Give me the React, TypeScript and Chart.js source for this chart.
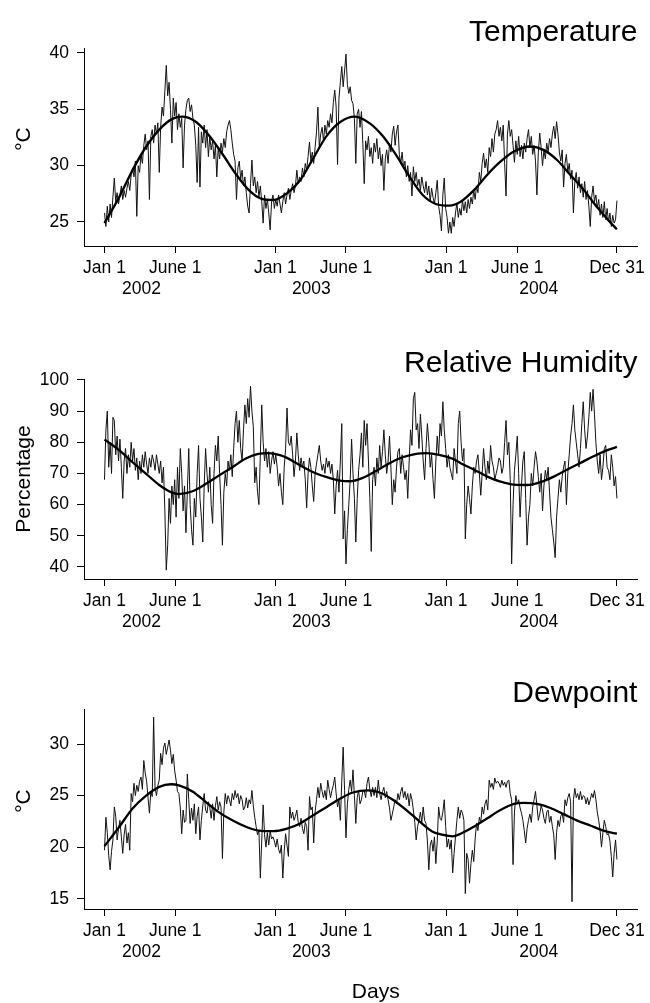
import { useEffect, useRef } from "react";
import { Chart, registerables } from "chart.js";

Chart.register(...registerables);

// Readings are plotted every SAMPLE_STEP days, starting Jan 1 2002 (day 0).
const SAMPLE_STEP = 3;

const temperature = [
  25.8, 24.6, 26.4, 25.0, 26.6, 25.4, 27.2, 28.9, 26.8, 27.6,
  26.6, 27.4, 28.2, 27.0, 27.8, 27.2, 28.0, 28.6, 27.8, 29.2,
  29.8, 29.0, 30.4, 25.5, 30.0, 29.4, 31.0, 30.2, 31.8, 32.8,
  31.4, 32.2, 27.0, 32.6, 33.2, 32.0, 33.6, 32.8, 33.8, 29.4,
  33.4, 35.2, 34.4, 36.6, 38.9, 36.2, 37.4, 35.0, 32.0, 36.0,
  34.4, 35.6, 33.2, 34.6, 33.4, 34.2, 29.8, 33.6, 35.0, 35.8,
  36.0, 34.8, 35.4, 34.2, 33.6, 31.8, 28.5, 33.4, 28.1, 33.0,
  32.0, 33.6, 31.6, 33.2, 30.8, 32.6, 31.4, 32.2, 30.6, 31.8,
  29.0, 31.6, 30.6, 32.0, 31.2, 32.4, 31.6, 33.0, 33.6, 34.0,
  33.2, 32.0, 31.0, 30.4, 27.0, 29.8, 30.4, 28.8, 29.6, 28.2,
  29.0, 27.6, 26.4, 25.8, 28.4, 30.5, 28.2, 29.0, 27.6, 28.6,
  27.2, 28.2, 26.8, 24.9, 27.4, 26.2, 27.0, 25.8, 24.3, 26.8,
  27.4, 26.2, 27.0, 26.4, 27.4, 26.6, 25.8, 26.8, 27.6, 26.6,
  27.4, 28.0, 27.0, 27.8, 28.4, 27.6, 28.2, 29.6, 28.4, 29.0,
  28.6, 29.8, 29.0, 30.2, 29.6, 30.8, 32.1, 30.4, 31.2, 30.2,
  31.6, 33.0, 35.2, 31.6, 32.8, 33.4, 32.2, 33.6, 32.8, 34.0,
  33.4, 34.6, 33.8, 35.6, 36.7, 35.2, 30.1, 36.0, 37.4, 38.8,
  37.0, 38.4, 39.9, 37.2, 36.4, 37.0, 35.8, 35.5, 34.2, 30.2,
  34.6, 35.0, 33.4, 34.8, 32.0, 28.4, 32.2, 31.4, 32.6, 30.8,
  31.6, 30.2, 32.0, 31.2, 32.4, 30.6, 31.6, 30.0, 31.0, 27.8,
  30.6, 31.4, 30.2, 32.0, 31.2, 32.8, 33.5, 31.8, 33.0, 33.6,
  31.0, 30.2, 31.2, 29.8, 30.4, 29.0, 30.0, 28.6, 29.4, 27.3,
  29.9, 28.6, 29.4, 28.2, 28.8, 27.8, 29.0, 28.2, 27.6, 28.6,
  27.4, 28.2, 26.8, 28.0, 27.2, 26.6, 27.6, 28.7, 26.4, 25.6,
  24.2, 27.4, 28.9, 26.2, 25.4, 24.0, 25.0, 24.0, 25.4, 24.6,
  25.8, 26.7, 25.4, 26.2, 25.6, 26.9, 26.0, 26.8, 25.8, 27.0,
  26.2, 27.2, 26.6, 27.8, 27.0, 28.2, 27.6, 29.4, 28.6, 30.2,
  31.1, 29.8, 30.6, 29.4, 31.6, 30.8, 32.4, 31.2, 32.8, 33.2,
  34.0, 32.6, 33.4, 32.2, 33.6, 30.2, 27.3, 32.8, 34.0, 32.6,
  33.2, 31.8, 30.3, 32.2, 31.0, 32.6, 30.8, 31.8, 30.6, 32.0,
  31.2, 32.4, 33.2, 31.6, 32.6, 31.0, 31.8, 30.4, 27.4, 31.2,
  32.9, 31.6, 30.0, 31.4, 30.6, 32.0, 31.2, 32.4, 31.6, 32.8,
  33.5, 32.4, 33.9, 32.8, 31.2, 30.4, 31.4, 28.1, 30.2, 31.0,
  29.4, 30.2, 28.8, 29.6, 25.8, 28.6, 29.4, 28.0, 29.0, 27.6,
  28.4, 27.2, 28.6, 27.0, 27.8, 26.4, 24.6, 27.2, 28.2, 26.8,
  27.4, 26.2, 27.0, 25.6, 26.6, 25.4, 26.8, 25.2, 26.2, 25.0,
  25.8, 24.6, 25.6, 24.9, 25.2, 26.9,
];

const humidity = [
  68, 84, 90, 72, 80, 70, 88, 87, 76, 82,
  74, 81, 72, 62, 74, 78, 70, 76, 72, 80,
  74, 78, 71, 75, 68, 74, 70, 76, 72, 77,
  73, 70, 75, 72, 76, 74, 71, 76, 73, 70,
  74, 67, 72, 58, 39, 47, 62, 54, 66, 60,
  68, 56, 72, 62, 78, 70, 58, 66, 51, 64,
  78, 60, 52, 47, 62, 56, 70, 79, 62, 56,
  48, 66, 78, 70, 64, 72, 60, 54, 70, 79,
  74, 82, 70, 60, 47, 64, 70, 66, 74, 71,
  76, 69, 78, 86, 90, 80, 87, 78, 74, 84,
  92, 86, 94, 88, 98, 90, 85, 67, 72, 64,
  60, 76, 92, 80, 74, 78, 72, 77, 70, 74,
  77, 73, 76, 72, 66, 70, 64, 60, 72, 78,
  91, 80, 79, 82, 76, 69, 74, 83, 76, 71,
  75, 72, 74, 68, 59, 70, 75, 72, 66, 61,
  70, 73, 76, 79, 74, 71, 73, 70, 75, 72,
  74, 70, 73, 68, 57, 66, 71, 64, 74, 86,
  49, 58, 41, 52, 60, 68, 81, 70, 62, 48,
  62, 71, 76, 83, 72, 87, 79, 86, 74, 62,
  45, 68, 72, 66, 75, 70, 79, 72, 77, 84,
  76, 70, 74, 82, 72, 60, 68, 64, 72, 77,
  78, 70, 76, 72, 68, 71, 62, 74, 84, 79,
  94, 96, 84, 86, 78, 89, 82, 74, 68, 78,
  86, 80, 72, 76, 68, 62, 74, 82, 76, 86,
  82, 93, 84, 78, 72, 76, 72, 70, 68, 78,
  74, 70, 86, 90, 80, 74, 78, 49, 60, 66,
  62, 57, 66, 72, 70, 74, 76, 70, 63, 70,
  78, 72, 68, 74, 70, 79, 74, 72, 68, 70,
  72, 75, 74, 70, 72, 80, 87, 76, 80, 68,
  41, 60, 71, 76, 82, 70, 56, 66, 74, 77,
  62, 47, 56, 60, 70, 66, 72, 77, 74, 69,
  64, 70, 58, 66, 71, 68, 72, 64, 56, 52,
  48, 43, 56, 62, 68, 64, 69, 72, 74, 60,
  70, 76, 82, 86, 92, 84, 80, 76, 72, 78,
  86, 93, 84, 78, 82, 88, 96, 90, 97, 89,
  80, 74, 70, 76, 68, 72, 78, 79, 72, 71,
  68, 76, 72, 66, 69, 62,
];

const dewpoint = [
  19.7, 22.9, 21.4, 19.2, 17.8, 19.6, 20.7, 23.9, 23.0, 20.7,
  21.8, 22.6, 21.0, 19.4, 21.2, 22.2, 20.4, 21.4, 19.7, 25.2,
  24.4, 26.2, 25.0, 26.0, 25.4, 26.4, 26.8, 25.6, 28.4, 27.2,
  26.4, 24.8, 23.3, 25.4, 24.9, 32.6, 25.8, 25.0, 26.0, 26.5,
  29.1, 28.0, 29.6, 30.1, 29.0, 29.7, 30.4, 29.4, 28.1, 29.0,
  27.4, 26.5, 25.4, 25.2, 23.8, 21.3, 23.6, 22.4, 22.6, 27.1,
  24.6, 22.3, 23.8, 22.6, 24.2, 21.3, 23.0, 23.9, 20.7, 22.6,
  24.0, 25.2, 23.6, 23.3, 24.4, 23.9, 22.8, 24.2, 22.6, 24.0,
  24.9, 23.6, 24.4, 23.9, 18.9, 23.4, 25.2, 24.2, 25.0, 24.6,
  24.0, 25.2, 24.6, 25.5, 24.8, 25.2, 24.2, 25.0, 24.6, 23.6,
  23.9, 24.8, 23.8, 24.6, 24.2, 25.5, 24.0, 22.9, 22.0, 21.2,
  21.6, 17.0, 20.7, 24.1, 21.2, 20.0, 21.4, 20.2, 21.6, 20.8,
  21.0, 20.6, 20.0, 20.8, 19.8, 19.4, 20.2, 17.0, 19.6, 21.3,
  20.2, 19.1, 23.9, 22.8, 23.4, 22.6, 23.0, 23.6, 22.4, 22.0,
  22.8, 21.8, 21.3, 22.4, 22.0, 19.7, 24.9, 23.6, 23.9, 20.4,
  23.4, 24.6, 25.8, 24.8, 26.2, 25.4, 24.8, 25.5, 24.6, 26.5,
  25.6, 24.8, 25.5, 26.0, 26.8, 25.2, 23.9, 24.6, 22.6, 26.4,
  29.7, 25.5, 20.9, 24.2, 25.6, 26.5, 25.4, 27.5, 25.0, 22.3,
  24.8, 25.5, 24.2, 24.6, 25.4, 25.5, 24.8, 26.2, 26.8, 25.6,
  24.9, 25.8, 25.0, 25.8, 24.8, 26.5, 25.2, 24.6, 25.4, 25.8,
  24.8, 25.4, 24.6, 23.8, 22.6, 23.2, 23.9, 24.6, 24.2, 25.2,
  24.6, 25.4, 25.8, 24.8, 25.4, 24.6, 25.2, 24.0, 25.2, 24.6,
  23.6, 22.4, 20.7, 22.0, 22.6, 23.4, 22.4, 23.9, 22.6, 22.3,
  20.6, 17.8, 20.2, 20.7, 19.6, 21.0, 18.4, 20.6, 23.9, 22.8,
  22.6, 23.4, 24.6, 22.0, 20.0, 20.8, 19.8, 20.7, 17.5, 19.4,
  21.0, 22.6, 23.9, 22.8, 23.6, 23.3, 22.6, 15.5, 19.4, 18.8,
  16.5, 18.4, 19.7, 18.6, 20.8, 22.3, 21.6, 22.9, 22.4, 23.9,
  23.2, 24.2, 24.6, 23.6, 26.5, 25.8, 26.2, 25.6, 26.7, 26.2,
  26.4, 26.2, 25.8, 26.5, 26.0, 26.3, 25.8, 26.4, 26.5, 25.2,
  24.6, 18.3, 23.4, 25.0, 24.2, 24.6, 23.8, 23.3, 22.6, 21.6,
  20.4, 21.8, 22.6, 23.2, 22.4, 23.9, 24.6, 25.4, 24.0, 22.6,
  23.2, 24.0, 23.6, 22.8, 22.3, 23.4, 23.6, 22.4, 23.0, 22.0,
  21.2, 18.8, 21.4, 22.6, 22.0, 23.0, 23.3, 22.4, 24.6, 24.0,
  24.8, 25.2, 24.4, 14.7, 24.6, 25.7, 24.8, 25.2, 24.6, 25.4,
  24.6, 25.0, 24.9, 24.2, 24.8, 24.1, 24.6, 25.2, 24.8, 25.5,
  24.6, 23.4, 22.6, 21.6, 20.0, 21.4, 22.6, 22.0, 21.2, 21.3,
  20.6, 19.1, 17.1, 19.4, 20.7, 18.8,
];

// Seasonal fitted curves: day index and fitted value.
const temperatureFitDays = [0, 32, 60, 89, 117, 145, 166, 195, 223, 251, 280, 308, 336, 361, 390, 418, 446, 474, 503, 535, 567, 595, 623, 652, 680, 708, 737, 761, 790, 818, 846, 875, 910, 938, 967, 995, 1024, 1052, 1080, 1095];
const temperatureFit = [24.9, 27.25, 29.6, 31.7, 33.2, 34.15, 34.35, 33.9, 32.7, 31.1, 29.3, 27.85, 27.05, 26.95, 27.55, 28.7, 30.65, 32.6, 33.85, 34.35, 33.75, 32.6, 30.95, 29.0, 27.4, 26.6, 26.45, 26.8, 27.85, 29.2, 30.35, 31.25, 31.7, 31.4, 30.5, 29.2, 27.85, 26.35, 25.0, 24.35];

const humidityFitDays = [0, 32, 60, 89, 117, 142, 159, 188, 216, 244, 273, 301, 329, 350, 375, 390, 418, 446, 475, 503, 524, 552, 581, 609, 637, 666, 687, 715, 744, 761, 790, 818, 846, 875, 903, 931, 960, 988, 1016, 1045, 1073, 1095];
const humidityFit = [80.9, 77.4, 73.6, 69.9, 66.3, 64.0, 63.4, 64.3, 66.6, 69.3, 72.0, 74.7, 76.3, 76.5, 75.9, 75.0, 72.6, 70.4, 68.8, 67.7, 67.5, 68.6, 70.9, 73.3, 75.2, 76.3, 76.5, 76.0, 74.7, 73.3, 71.2, 69.0, 67.4, 66.4, 66.3, 67.2, 69.0, 71.2, 73.3, 75.5, 77.4, 78.5];

const dewpointFitDays = [0, 32, 60, 89, 117, 142, 159, 188, 216, 244, 273, 301, 330, 361, 390, 418, 446, 475, 503, 531, 563, 588, 616, 645, 673, 701, 723, 744, 761, 790, 818, 846, 875, 896, 924, 953, 981, 1009, 1038, 1066, 1095];
const dewpointFit = [20.1, 22.0, 23.75, 25.0, 25.85, 26.1, 26.0, 25.4, 24.4, 23.4, 22.6, 22.0, 21.6, 21.55, 21.8, 22.3, 23.1, 23.9, 24.7, 25.3, 25.5, 25.3, 24.6, 23.6, 22.5, 21.5, 21.2, 21.05, 21.3, 22.0, 22.8, 23.6, 24.2, 24.3, 24.2, 23.8, 23.2, 22.6, 22.1, 21.6, 21.3];

// Date axis
const tickDays = [0, 151, 365, 516, 730, 882, 1095];
const tickLabels = ["Jan 1", "June 1", "Jan 1", "June 1", "Jan 1", "June 1", "Dec 31"];
const yearDays = [79, 442, 928];
const yearLabels = ["2002", "2003", "2004"];

const temperatureTicks = [25, 30, 35, 40];
const humidityTicks = [40, 50, 60, 70, 80, 90, 100];
const dewpointTicks = [15, 20, 25, 30];

const FONT = '"Liberation Sans", Arial, Helvetica, sans-serif';
const TICK_SIZE = 17.5;

type Panel = {
  title: string;
  yTitle: string;
  yTitleShift: number;
  xTitle?: string;
  series: number[];
  fitDays: number[];
  fit: number[];
  yMin: number;
  yMax: number;
  yTicks: number[];
  top: number;
  height: number;
  plotTop: number;
  plotBottom: number;
};

const panels: Panel[] = [
  {
    title: "Temperature", yTitle: "\u00B0C", yTitleShift: -8,
    series: temperature, fitDays: temperatureFitDays, fit: temperatureFit,
    yMin: 22.87, yMax: 40.44, yTicks: temperatureTicks,
    top: 0, height: 331, plotTop: 48, plotBottom: 246,
  },
  {
    title: "Relative Humidity", yTitle: "Percentage", yTitleShift: 0,
    series: humidity, fitDays: humidityFitDays, fit: humidityFit,
    yMin: 36.15, yMax: 100.3, yTicks: humidityTicks,
    top: 331, height: 331, plotTop: 48, plotBottom: 248,
  },
  {
    title: "Dewpoint", yTitle: "\u00B0C", yTitleShift: -8, xTitle: "Days",
    series: dewpoint, fitDays: dewpointFitDays, fit: dewpointFit,
    yMin: 14.0, yMax: 33.4, yTicks: dewpointTicks,
    top: 662, height: 341, plotTop: 47, plotBottom: 247,
  },
];

// Panel heading, year line under the date ticks, and rotated axis captions.
const panelText = {
  id: "panelText",
  afterDraw(chart: any, _args: any, opts: any) {
    const { ctx, chartArea } = chart;
    const xScale = chart.scales.x;
    ctx.save();
    ctx.fillStyle = "#000";

    ctx.font = `30px ${FONT}`;
    ctx.textAlign = "right";
    ctx.textBaseline = "alphabetic";
    ctx.fillText(opts.title, chartArea.right, chartArea.top - 7);

    ctx.font = `${TICK_SIZE}px ${FONT}`;
    ctx.textAlign = "center";
    ctx.textBaseline = "middle";
    yearLabels.forEach((label, i) => {
      ctx.fillText(label, xScale.getPixelForValue(yearDays[i]), chartArea.bottom + 43);
    });

    ctx.font = `21px ${FONT}`;
    if (opts.xTitle) {
      ctx.fillText(opts.xTitle, (chartArea.left + chartArea.right) / 2 + 15, chartArea.bottom + 83);
    }

    ctx.translate(24, (chartArea.top + chartArea.bottom) / 2 + opts.yTitleShift);
    ctx.rotate(-Math.PI / 2);
    ctx.fillText(opts.yTitle, 0, 0);
    ctx.restore();
  },
};

function PanelChart({ panel }: { panel: Panel }) {
  const canvasRef = useRef<HTMLCanvasElement | null>(null);

  useEffect(() => {
    const canvas = canvasRef.current;
    if (!canvas) return;
    const readings = panel.series.map((v, i) => ({ x: i * SAMPLE_STEP, y: v }));
    const fitted = panel.fit.map((v, i) => ({ x: panel.fitDays[i], y: v }));
    const xBottom = panel.height - panel.plotBottom;

    const chart = new Chart(canvas, {
      type: "line",
      data: {
        datasets: [
          {
            data: fitted,
            borderColor: "#000",
            borderWidth: 2.3,
            pointRadius: 0,
            cubicInterpolationMode: "monotone",
            order: 0,
          },
          {
            data: readings,
            borderColor: "#111",
            borderWidth: 1,
            pointRadius: 0,
            tension: 0,
            order: 1,
          },
        ],
      },
      options: {
        responsive: false,
        animation: false,
        devicePixelRatio: 1,
        layout: { padding: { top: panel.plotTop, right: 9, bottom: 0, left: 0 } },
        plugins: {
          legend: { display: false },
          tooltip: { enabled: false },
          panelText: { title: panel.title, yTitle: panel.yTitle, yTitleShift: panel.yTitleShift, xTitle: panel.xTitle },
        } as any,
        scales: {
          x: {
            type: "linear",
            min: -43.8,
            max: 1138.8,
            afterBuildTicks: (scale: any) => {
              scale.ticks = tickDays.map((d) => ({ value: d }));
            },
            afterFit: (scale: any) => {
              scale.height = xBottom;
            },
            ticks: {
              autoSkip: false,
              maxRotation: 0,
              padding: 5,
              color: "#000",
              font: { family: FONT, size: TICK_SIZE },
              callback: (value: any) => {
                const i = tickDays.indexOf(Number(value));
                return i >= 0 ? tickLabels[i] : "";
              },
            },
            grid: { display: true, drawOnChartArea: false, drawTicks: true, tickLength: 7, color: "#000", lineWidth: 1 },
            border: { display: true, color: "#000", width: 1 },
          },
          y: {
            type: "linear",
            min: panel.yMin,
            max: panel.yMax,
            afterBuildTicks: (scale: any) => {
              scale.ticks = panel.yTicks.map((v) => ({ value: v }));
            },
            afterFit: (scale: any) => {
              scale.width = 84;
            },
            ticks: {
              padding: 8,
              color: "#000",
              font: { family: FONT, size: TICK_SIZE },
              callback: (value: any) => String(value),
            },
            grid: { display: true, drawOnChartArea: false, drawTicks: true, tickLength: 7, color: "#000", lineWidth: 1 },
            border: { display: true, color: "#000", width: 1 },
          },
        },
      },
      plugins: [panelText],
    } as any);

    return () => chart.destroy();
  }, [panel]);

  return (
    <canvas
      ref={canvasRef}
      width={650}
      height={panel.height}
      style={{ position: "absolute", left: 0, top: panel.top, width: 650, height: panel.height }}
    />
  );
}

export default function App() {
  return (
    <div style={{ position: "absolute", left: 0, top: 0, width: 650, height: 1003, background: "#fff" }}>
      {panels.map((p) => (
        <PanelChart key={p.title} panel={p} />
      ))}
    </div>
  );
}
